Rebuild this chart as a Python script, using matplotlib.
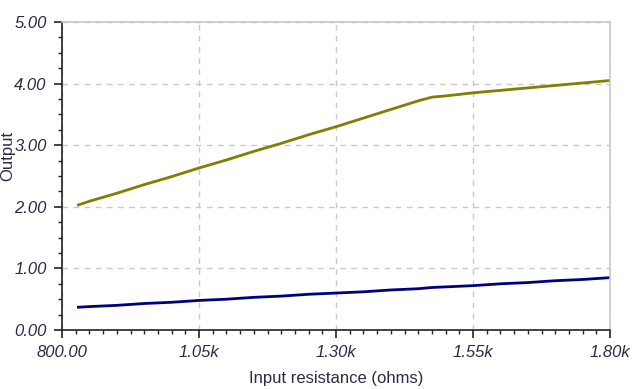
import matplotlib
matplotlib.use("Agg")
import matplotlib.pyplot as plt
from matplotlib.ticker import FuncFormatter, MultipleLocator

# Valores (resistência de entrada em ohms)
resistencia = [830, 850, 900, 950, 1000, 1050, 1100, 1150, 1200, 1250, 1300,
               1350, 1400, 1450, 1475, 1500, 1550, 1600, 1650, 1700, 1750, 1800]
saida_oliva = [2.03, 2.09, 2.22, 2.36, 2.49, 2.63, 2.76, 2.90, 3.03, 3.17, 3.30,
               3.44, 3.58, 3.72, 3.78, 3.80, 3.85, 3.89, 3.93, 3.97, 4.01, 4.05]
saida_azul = [0.37, 0.38, 0.40, 0.43, 0.45, 0.48, 0.50, 0.53, 0.55, 0.58, 0.60,
              0.62, 0.65, 0.67, 0.69, 0.70, 0.72, 0.75, 0.77, 0.80, 0.82, 0.85]
ticks_x = [800, 1050, 1300, 1550, 1800]

cor_texto = "#2b2b45"
plt.rcParams['font.family'] = ['Liberation Sans', 'DejaVu Sans']

fig = plt.figure(figsize=(6.4, 3.89), dpi=100)
ax = fig.add_axes([62 / 640, 59 / 389, 548 / 640, 308 / 389])

ax.plot(resistencia, saida_oliva, color="#808000", lw=2)
ax.plot(resistencia, saida_azul, color="#000080", lw=2)

ax.set_xlim(800, 1800)
ax.set_ylim(0, 5)
ax.set_xticks(ticks_x)
ax.xaxis.set_minor_locator(MultipleLocator(25))
ax.yaxis.set_major_locator(MultipleLocator(1))
ax.yaxis.set_minor_locator(MultipleLocator(0.25))

def fmt_x(v, pos):
    if v < 1000:
        return f"{v:.2f}"
    return f"{v / 1000:.2f}k"

ax.xaxis.set_major_formatter(FuncFormatter(fmt_x))
ax.yaxis.set_major_formatter(FuncFormatter(lambda v, p: f"{v:.2f}"))

ax.grid(True, which="major", color="#c8c8c8", linestyle=(0, (4, 4)), lw=1)
ax.set_axisbelow(True)

for s in ["top", "right"]:
    ax.spines[s].set_color("#c8c8c8")
    ax.spines[s].set_linewidth(1.2)
for s in ["left", "bottom"]:
    ax.spines[s].set_color("#222222")
    ax.spines[s].set_linewidth(1.2)

ax.tick_params(which="major", direction="out", length=6, width=1.2, color="#222222",
               labelsize=12, labelcolor=cor_texto, pad=5)
ax.tick_params(which="minor", direction="out", length=3, width=1, color="#222222")
for lbl in ax.get_xticklabels() + ax.get_yticklabels():
    lbl.set_fontstyle("italic")

ax.set_xlabel("Input resistance (ohms)", fontsize=12, color=cor_texto, labelpad=8)
fig.text(0.001, 0.6, "Output", rotation=90, fontsize=12, color=cor_texto,
         ha="left", va="center")

plt.savefig("out.png", dpi=100)
